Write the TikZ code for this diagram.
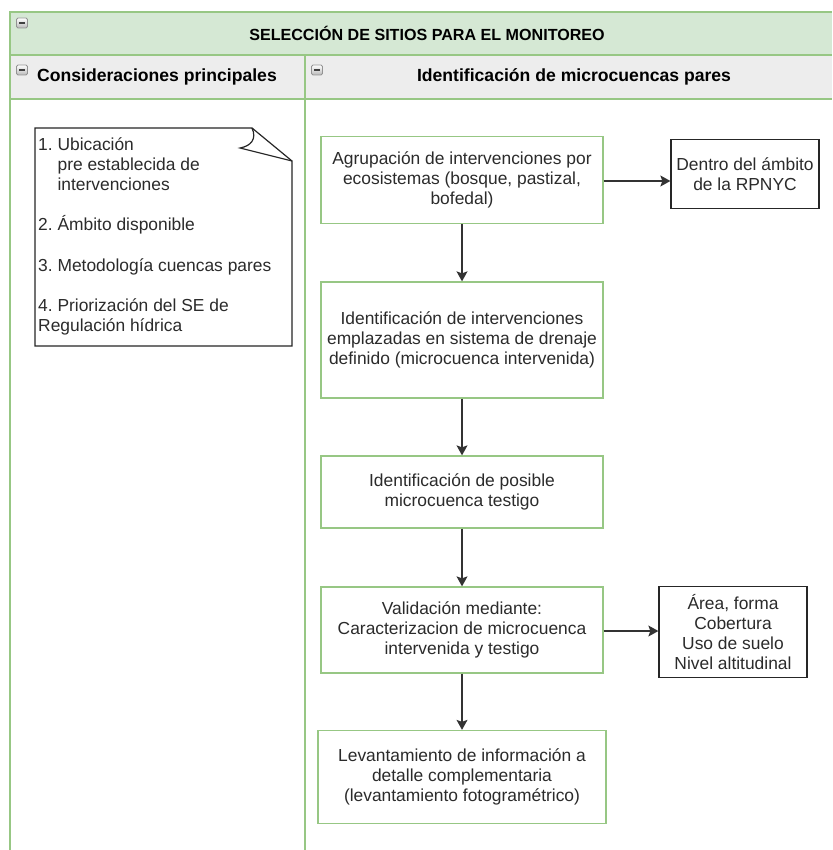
\documentclass[tikz,border=0pt]{standalone}
\usepackage{fontspec}
\setmainfont{Liberation Sans}
\usetikzlibrary{positioning, arrows.meta, calc}

\definecolor{lanegreen}{HTML}{97C784}
\definecolor{titlefill}{HTML}{D5E8D4}
\definecolor{headfill}{HTML}{EDEDED}
\definecolor{inktext}{HTML}{2B2B2B}

\frenchspacing
\begin{document}
\begin{tikzpicture}[
    x=1pt, y=-1pt,
    font=\fontsize{17.4}{20}\selectfont,
    stepbox/.style={rectangle, draw=lanegreen, line width=1.3pt, fill=white,
        minimum width=282pt, align=center, inner sep=5pt, text=inktext},
    sidebox/.style={rectangle, draw=black!85, line width=1.3pt, fill=white,
        minimum width=148pt, align=center, inner sep=4pt, text=inktext},
    flow/.style={-{Stealth[length=10pt, width=11pt, inset=2pt]},
        line width=1.3pt, black!80},
    collapse/.style={rectangle, rounded corners=1.5pt, draw=gray!85,
        line width=0.8pt, top color=white, bottom color=gray!55,
        minimum width=11pt, minimum height=10pt, inner sep=0pt,
        path picture={\draw[line width=1.2pt, black!75]
            ([xshift=-3pt]path picture bounding box.center) --
            ([xshift=3pt]path picture bounding box.center);}},
    lanehead/.style={font=\bfseries\fontsize{17.6}{20}\selectfont, text=black},
]
\useasboundingbox (0,0) rectangle (832,850);

% ---- Pool and lanes ----
\fill[titlefill] (10,12) rectangle (832,55);
\fill[headfill] (10,55) rectangle (832,99);
\draw[lanegreen, line width=1.3pt] (10,850) -- (10,12) -- (832,12);
\draw[lanegreen, line width=1.3pt] (10,55) -- (832,55);
\draw[lanegreen, line width=1.3pt] (10,99) -- (832,99);
\draw[lanegreen, line width=1.3pt] (305,55) -- (305,850);

\node[font=\bfseries\fontsize{16.1}{19}\selectfont, text=black] (title) at (427,33)
    {SELECCIÓN DE SITIOS PARA EL MONITOREO};
\node[lanehead] (laneA) at (157,77) {Consideraciones principales};
\node[lanehead] (laneB) at (574,77) {Identificación de microcuencas pares};

\node[collapse] (tog0) at (22,23) {};
\node[collapse] (tog1) at (22,70) {};
\node[collapse] (tog2) at (317,70) {};

% ---- Note in the left lane ----
\draw[black!85, line width=1.2pt, fill=white]
    (35,128) -- (252,128) -- (292,161) -- (292,346) -- (35,346) -- cycle;
\draw[black!85, line width=1.2pt] (252,128) .. controls (257,139) and (251,146) .. (240,148) -- (292,161);
\node[anchor=north west, align=left, inner sep=0pt, text=inktext] (notes) at (38,137)
    {1. Ubicación\\
     \hspace*{19.4pt}pre establecida de\\
     \hspace*{19.4pt}intervenciones\\[20.5pt]
     2. Ámbito disponible\\[20.5pt]
     3. Metodología cuencas pares\\[20.5pt]
     4. Priorización del SE de\\
     Regulación hídrica};

% ---- Steps ----
\node[stepbox, minimum height=87pt] (s1) at (462,180)
    {Agrupación de intervenciones por\\ ecosistemas (bosque, pastizal,\\ bofedal)};
\node[stepbox, minimum height=116pt] (s2) at (462,340)
    {Identificación de intervenciones\\ emplazadas en sistema de drenaje\\ definido (microcuenca intervenida)};
\node[stepbox, minimum height=72pt] (s3) at (462,492)
    {Identificación de posible\\ microcuenca testigo};
\node[stepbox, minimum height=86pt] (s4) at (462,630)
    {Validación mediante:\\ Caracterizacion de microcuenca\\ intervenida y testigo};
\node[stepbox, minimum height=93pt, minimum width=288pt] (s5) at (462,777)
    {Levantamiento de información a\\ detalle complementaria\\ (levantamiento fotogramétrico)};

\node[sidebox, minimum height=69pt] (r1) at (745,174)
    {Dentro del ámbito\\ de la RPNYC};
\node[sidebox, minimum height=91pt] (r2) at (733,632)
    {Área, forma\\ Cobertura\\ Uso de suelo\\ Nivel altitudinal};

% ---- Arrows ----
\draw[flow] (s1) -- (s2);
\draw[flow] (s2) -- (s3);
\draw[flow] (s3) -- (s4);
\draw[flow] (s4) -- (s5);
\draw[flow] (s1.east |- 0,181) -- (r1.west |- 0,181);
\draw[flow] (s4.east |- 0,631) -- (r2.west |- 0,631);

\end{tikzpicture}
\end{document}
